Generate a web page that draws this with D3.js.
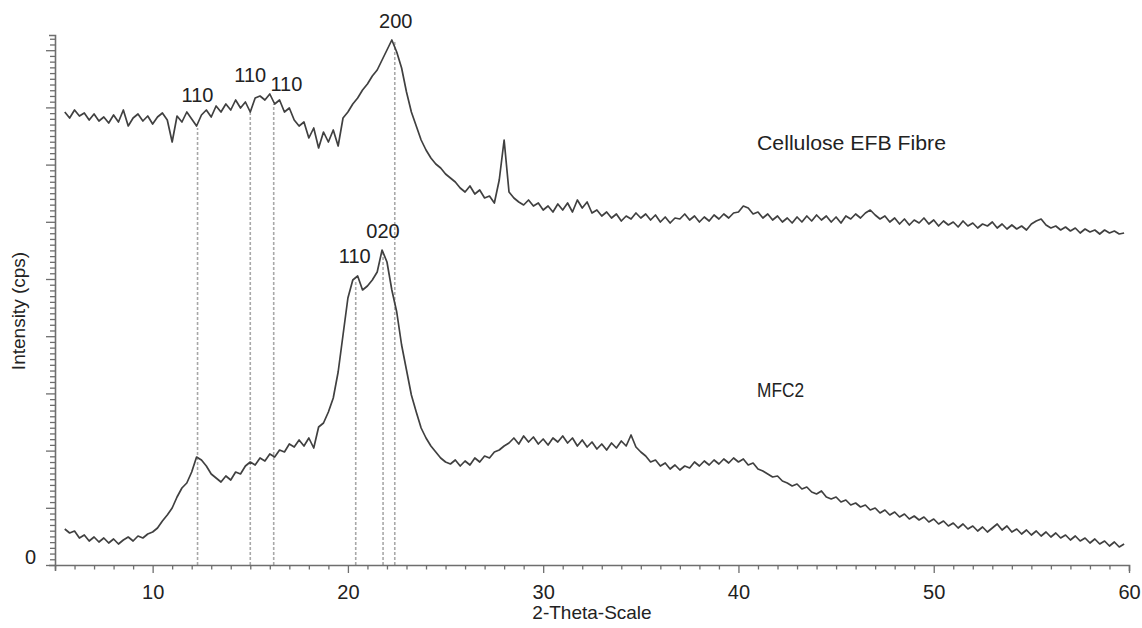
<!DOCTYPE html>
<html>
<head>
<meta charset="utf-8">
<script src="https://cdn.jsdelivr.net/npm/d3@7"></script>
<style>
  body { margin: 0; background: #fff; }
  text { font-family: "Liberation Sans", Arial, sans-serif; fill: #222; }
</style>
</head>
<body>
<div id="chart"></div>
<script>
// XRD patterns, 2-theta sampled every 0.25 deg from 5.5
var thetaStart = 5.5, thetaStep = 0.25;

var efbFibre = [4530,4470,4550,4490,4520,4450,4510,4440,4480,4420,4500,4430,4550,4390,4470,4510,4440,4490,4410,4480,
  4520,4450,4230,4490,4430,4530,4460,4390,4500,4550,4480,4590,4530,4610,4550,4650,4570,4630,4530,4670,
  4690,4650,4710,4610,4650,4530,4570,4450,4390,4430,4270,4370,4170,4330,4230,4350,4190,4470,4530,4610,
  4670,4750,4810,4890,4950,5050,5150,5250,5130,4970,4730,4530,4390,4250,4150,4070,4010,3970,3910,3870,
  3830,3770,3730,3790,3710,3750,3670,3690,3620,3850,4250,3730,3670,3630,3600,3650,3590,3620,3550,3590,
  3530,3610,3550,3620,3530,3650,3570,3630,3520,3550,3490,3530,3470,3510,3440,3490,3460,3520,3470,3510,
  3450,3500,3430,3480,3420,3470,3460,3510,3450,3490,3430,3480,3440,3500,3460,3510,3470,3520,3530,3590,
  3570,3510,3530,3470,3510,3450,3490,3430,3470,3420,3480,3430,3490,3440,3500,3450,3490,3430,3480,3420,
  3490,3460,3510,3470,3520,3550,3500,3460,3490,3430,3470,3410,3460,3400,3450,3420,3470,3410,3450,3390,
  3440,3400,3430,3380,3440,3390,3420,3370,3410,3390,3430,3370,3410,3360,3400,3360,3390,3350,3410,3440,
  3460,3400,3370,3390,3350,3380,3340,3370,3320,3360,3330,3350,3310,3350,3320,3340,3310,3320];

var mfc2 = [360,320,340,270,300,240,280,230,270,220,260,210,250,280,240,290,270,310,330,370,
  440,500,570,680,770,820,930,1080,1050,990,910,870,830,890,850,930,910,990,1030,1000,
  1070,1040,1110,1080,1150,1130,1210,1180,1250,1190,1270,1170,1380,1420,1530,1670,1930,2300,2670,2850,
  2890,2750,2790,2850,2930,3150,3030,2750,2530,2200,1950,1700,1530,1370,1270,1190,1130,1070,1030,1010,
  1050,990,1040,1000,1070,1030,1090,1070,1130,1150,1190,1220,1270,1210,1290,1230,1280,1210,1260,1200,
  1270,1230,1290,1220,1270,1190,1250,1180,1230,1160,1210,1150,1220,1170,1240,1190,1300,1180,1130,1090,
  1030,1050,990,1020,960,1000,950,990,970,1030,990,1040,1000,1050,1010,1060,1020,1070,1030,1060,
  1000,1020,960,940,910,880,890,840,820,790,810,760,780,730,710,740,680,660,680,630,
  650,600,620,580,600,550,570,520,550,500,530,480,510,460,490,450,480,430,460,410,
  440,390,420,370,410,360,390,340,380,330,370,410,350,390,330,360,310,350,300,340,
  290,330,280,320,270,300,250,290,240,270,220,260,210,240,190,230,180,210];

// reflections: dashed guides from the axis up to the peak
var refTheta = [12.3, 15.0, 16.2, 20.4, 21.8, 22.4];
var refTop = [4370, 4530, 4610, 2830, 3130, 5250];

var peakText = ["110", "110", "110", "200", "110", "020"];
var peakTheta = [12.3, 15.0, 16.85, 22.45, 20.35, 21.8];
var peakCps = [4630, 4830, 4740, 5370, 3020, 3270];

var seriesNames = ["Cellulose EFB Fibre", "MFC2"];
var seriesLabelTheta = [40.95, 40.95];
var seriesLabelCps = [4150, 1680];
var seriesLabelWidth = [189, 47];

var xTickValues = d3.range(5, 61, 1);
var xMajor = [10, 20, 30, 40, 50, 60];
var yMax = 5300, yMinorStep = 57.2, yMajorEvery = 10;

var width = 1142, height = 628;
var margin = {top: 35, right: 13, bottom: 63, left: 55};

var x = d3.scaleLinear().domain([5, 60]).range([margin.left, width - margin.right]);
var y = d3.scaleLinear().domain([0, yMax]).range([height - margin.bottom, margin.top]);

var svg = d3.select("#chart").append("svg")
  .attr("width", width)
  .attr("height", height);

svg.append("rect").attr("width", width).attr("height", height).attr("fill", "#fff");

function toPoints(vals) {
  return vals.map(function(v, i) { return [thetaStart + i * thetaStep, v]; });
}

// dashed reflection lines
svg.append("g").selectAll("line")
  .data(refTheta)
  .enter().append("line")
  .attr("x1", function(d) { return x(d); })
  .attr("x2", function(d) { return x(d); })
  .attr("y1", y(0))
  .attr("y2", function(d, i) { return y(refTop[i]); })
  .attr("stroke", "#a8a8a8")
  .attr("stroke-width", 1.6)
  .attr("stroke-dasharray", "3,2");

var line = d3.line()
  .x(function(d) { return x(d[0]); })
  .y(function(d) { return y(d[1]); });

svg.append("g").selectAll("path")
  .data([toPoints(efbFibre), toPoints(mfc2)])
  .enter().append("path")
  .attr("d", line)
  .attr("fill", "none")
  .attr("stroke", "#404040")
  .attr("stroke-width", 1.7)
  .attr("stroke-linejoin", "round");

// x axis
var xAxis = svg.append("g")
  .attr("transform", "translate(0," + y(0) + ")")
  .call(d3.axisBottom(x).tickValues(xTickValues)
    .tickFormat(function(d) { return xMajor.indexOf(d) >= 0 ? d : ""; }));
xAxis.selectAll(".tick line")
  .attr("y2", function(d) { return xMajor.indexOf(d) >= 0 ? 8 : 4.5; });
xAxis.selectAll(".tick text").attr("y", 20).style("font-size", "20px");

// y axis
var yTicks = d3.range(0, yMax + 1, yMinorStep);
var yAxis = svg.append("g")
  .attr("transform", "translate(" + margin.left + ",0)")
  .call(d3.axisLeft(y).tickValues(yTicks)
    .tickFormat(function(d) { return d === 0 ? "0" : ""; }));
yAxis.selectAll(".tick line")
  .attr("x2", function(d, i) { return i % yMajorEvery === 0 ? -9 : -5; });
yAxis.selectAll(".tick text").attr("x", -19).attr("dy", "-0.1em").style("font-size", "20px");

svg.selectAll(".domain").attr("stroke", "#6e6e6e").attr("stroke-width", 1.6);
svg.selectAll(".tick line").attr("stroke", "#6e6e6e").attr("stroke-width", 1.3);

// peak indices
svg.append("g").selectAll("text")
  .data(peakText)
  .enter().append("text")
  .attr("x", function(d, i) { return x(peakTheta[i]); })
  .attr("y", function(d, i) { return y(peakCps[i]); })
  .attr("text-anchor", "middle")
  .style("font-size", "20px")
  .text(function(d) { return d; });

svg.append("g").selectAll("text")
  .data(seriesNames)
  .enter().append("text")
  .attr("x", function(d, i) { return x(seriesLabelTheta[i]); })
  .attr("y", function(d, i) { return y(seriesLabelCps[i]); })
  .attr("textLength", function(d, i) { return seriesLabelWidth[i]; })
  .attr("lengthAdjust", "spacingAndGlyphs")
  .style("font-size", "20px")
  .text(function(d) { return d; });

svg.append("text")
  .attr("x", x(32.5))
  .attr("y", 619)
  .attr("text-anchor", "middle")
  .style("font-size", "19px")
  .text("2-Theta-Scale");

svg.append("text")
  .attr("transform", "translate(25," + 311 + ") rotate(-90)")
  .attr("text-anchor", "middle")
  .style("font-size", "19px")
  .text("Intensity (cps)");
</script>
</body>
</html>
